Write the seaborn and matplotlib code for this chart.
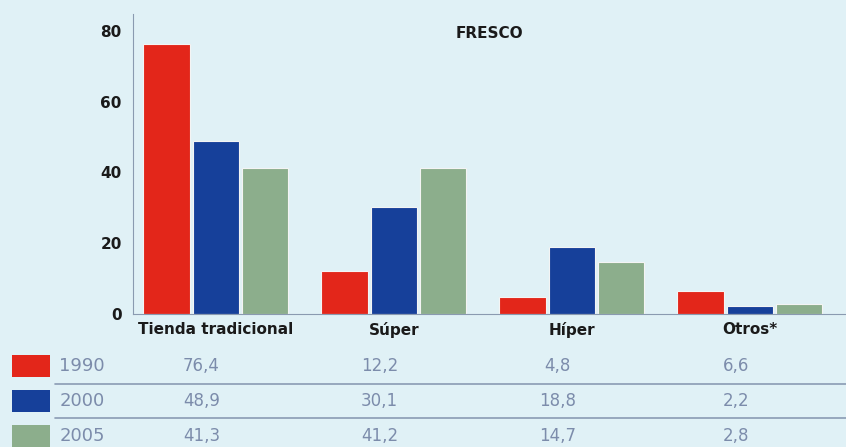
import seaborn as sns
import matplotlib.pyplot as plt
import matplotlib.transforms as mtransforms
import pandas as pd

categories = ["Tienda tradicional", "Súper", "Híper", "Otros*"]
years = ["1990", "2000", "2005"]
v1990 = [76.4, 12.2, 4.8, 6.6]
v2000 = [48.9, 30.1, 18.8, 2.2]
v2005 = [41.3, 41.2, 14.7, 2.8]
colors = ["#e3261a", "#16409a", "#8cae8c"]
bg = "#e0f1f6"

df = pd.DataFrame({
    "canal": categories * 3,
    "anio": [y for y in years for _ in categories],
    "valor": v1990 + v2000 + v2005,
})

sns.set_style("white")
fig = plt.figure(figsize=(8.46, 4.47), dpi=100, facecolor=bg)
ax = fig.add_axes([0.157, 0.2975, 0.843, 0.6715])
ax.set_facecolor(bg)

sns.barplot(data=df, x="canal", y="valor", hue="anio", palette=colors,
            saturation=1, width=0.83, gap=0.06, edgecolor="#f4f4f4",
            linewidth=0.8, legend=False, ax=ax)

ax.set_xlim(-0.466, 3.54)
ax.set_ylim(0, 84.8)
ax.set_yticks([0, 20, 40, 60, 80])
ax.set_xlabel("")
ax.set_ylabel("")
for s in ["top", "right"]:
    ax.spines[s].set_visible(False)
for s in ["left", "bottom"]:
    ax.spines[s].set_color("#8a9ab0")
    ax.spines[s].set_linewidth(0.8)
ax.tick_params(axis="y", direction="in", length=4, color="#8a9ab0",
               labelsize=11, pad=8)
ax.tick_params(axis="x", length=0, labelsize=11, pad=6)
for lbl in ax.get_xticklabels() + ax.get_yticklabels():
    lbl.set_fontweight("bold")
    lbl.set_color("#1a1a1a")

ax.text(0.5, 0.935, "FRESCO", transform=ax.transAxes, ha="center", va="center",
        fontsize=11, fontweight="bold", color="#1a1a1a")

# tabla inferior
rows = [v1990, v2000, v2005]
row_y = [0.181, 0.103, 0.025]
txt_col = "#7c8cab"
blend = mtransforms.blended_transform_factory(ax.transData, fig.transFigure)
for i, (vals, y) in enumerate(zip(rows, row_y)):
    fig.patches.append(plt.Rectangle((0.014, y - 0.025), 0.045, 0.05,
                                     transform=fig.transFigure,
                                     facecolor=colors[i], edgecolor="none"))
    fig.text(0.07, y, years[i], ha="left", va="center", fontsize=13,
             color=txt_col)
    for j, v in enumerate(vals):
        fig.text(j - 0.08, y, f"{v:.1f}".replace(".", ","), transform=blend,
                 ha="center", va="center", fontsize=12, color=txt_col)

for y in [0.142, 0.064]:
    fig.add_artist(plt.Line2D([0.065, 1.0], [y, y], transform=fig.transFigure,
                              color="#8a9bb3", linewidth=1.2))

fig.savefig("out.png", dpi=100, facecolor=bg)
